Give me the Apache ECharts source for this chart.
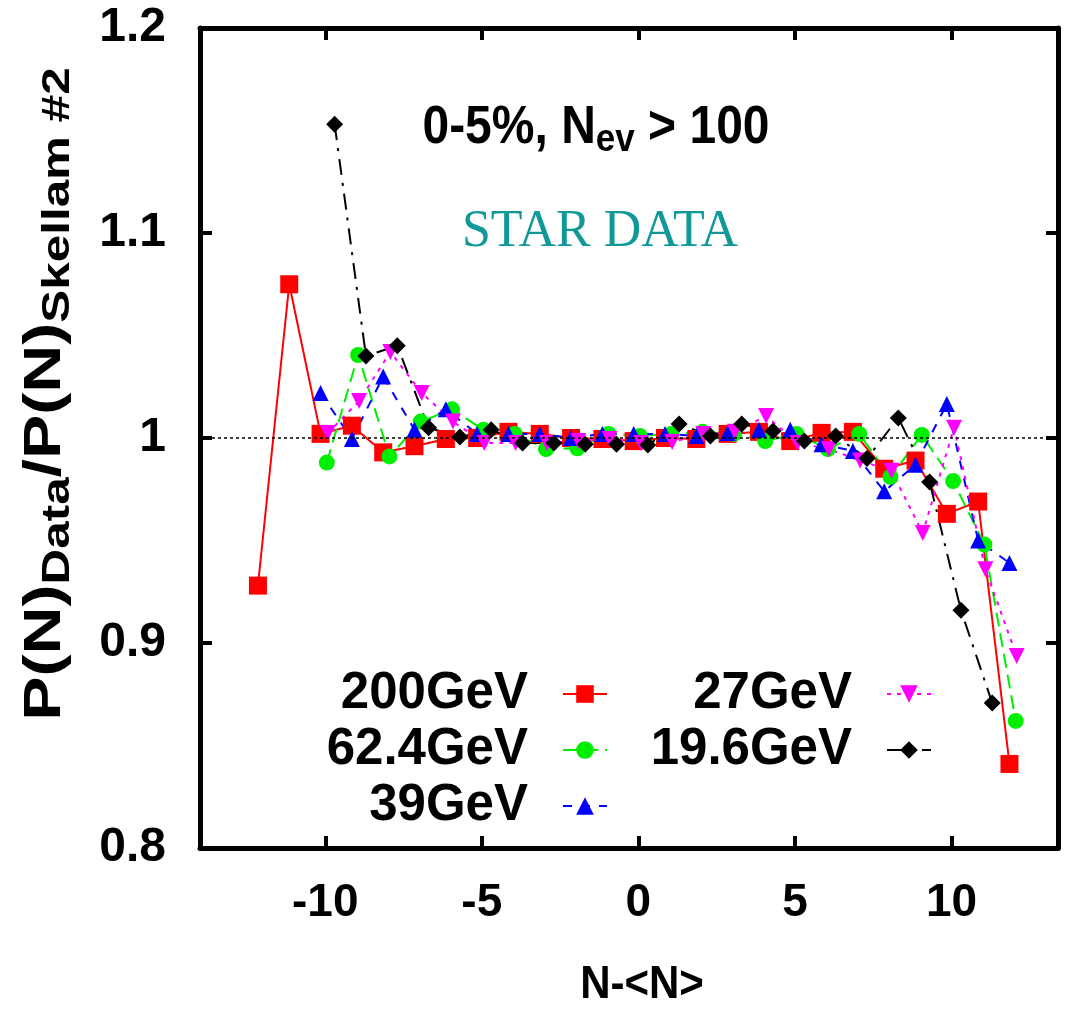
<!DOCTYPE html>
<html>
<head>
<meta charset="utf-8">
<script src="https://cdn.jsdelivr.net/npm/echarts@6/dist/echarts.min.js"></script>
<style>
  html, body { margin: 0; padding: 0; background: #fff; }
  #chart { width: 1086px; height: 1010px; }
</style>
</head>
<body>
<div id="chart"></div>
<script>
// N-<N> positions and P(N)Data/P(N)Skellam ratios
const x200 = [-12.15, -11.15, -10.15, -9.15, -8.15, -7.15, -6.15, -5.15, -4.15, -3.15, -2.15, -1.15, -0.15,
  0.85, 1.85, 2.85, 3.85, 4.85, 5.85, 6.85, 7.85, 8.85, 9.85, 10.85, 11.85];
const y200 = [0.928, 1.075, 1.002, 1.006, 0.993, 0.996, 0.9995, 1.0, 1.003, 1.002, 1.0, 0.9995, 0.9985,
  1.0, 0.9995, 1.002, 1.003, 0.9985, 1.0025, 1.003, 0.985, 0.989, 0.963, 0.969, 0.841];

const x624 = [-9.95, -8.95, -7.95, -6.95, -5.95, -4.95, -3.95, -2.95, -1.95, -0.95, 0.05,
  1.05, 2.05, 3.05, 4.05, 5.05, 6.05, 7.05, 8.05, 9.05, 10.05, 11.05, 12.05];
const y624 = [0.988, 1.0405, 0.991, 1.008, 1.014, 1.004, 1.002, 0.9946, 0.995, 1.002, 1.001,
  1.002, 1.003, 1.002, 0.9985, 1.002, 0.9946, 1.002, 0.981, 1.0015, 0.979, 0.948, 0.862];

const x39 = [-10.15, -9.15, -8.15, -7.15, -6.15, -5.15, -4.15, -3.15, -2.15, -1.15, -0.15,
  0.85, 1.85, 2.85, 3.85, 4.85, 5.85, 6.85, 7.85, 8.85, 9.85, 10.85, 11.85];
const y39 = [1.022, 0.9995, 1.030, 1.004, 1.014, 1.002, 1.002, 1.002, 1.0, 1.002, 1.002,
  1.002, 1.001, 1.0025, 1.004, 1.004, 0.997, 0.9937, 0.974, 0.987, 1.0166, 0.950, 0.939];

const x27 = [-9.92, -8.92, -7.92, -6.92, -5.92, -4.92, -3.92, -2.92, -1.92, -0.92, 0.08,
  1.08, 2.08, 3.08, 4.08, 5.08, 6.08, 7.08, 8.08, 9.08, 10.08, 11.08, 12.08];
const y27 = [1.0024, 1.018, 1.042, 1.022, 1.008, 0.9976, 0.9976, 0.9976, 0.9985, 0.9995, 0.9976,
  0.998, 1.002, 1.003, 1.0107, 0.9976, 0.9946, 0.989, 0.984, 0.9537, 1.005, 0.936, 0.8937];

const x196 = [-9.7, -8.7, -7.7, -6.7, -5.7, -4.7, -3.7, -2.7, -1.7, -0.7, 0.3,
  1.3, 2.3, 3.3, 4.3, 5.3, 6.3, 7.3, 8.3, 9.3, 10.3, 11.3];
const y196 = [1.153, 1.040, 1.045, 1.005, 1.0005, 1.004, 0.9976, 0.9976, 0.997, 0.997, 0.9966,
  1.0068, 1.001, 1.0068, 1.0034, 0.9985, 1.001, 0.990, 1.0098, 0.9785, 0.916, 0.8707];

const xTicks = [-10, -5, 0, 5, 10];
const legendLeft = ['200GeV', '62.4GeV', '39GeV'];
const legendRight = ['27GeV', '19.6GeV'];

const FONT = '"Liberation Sans", Arial, sans-serif';

function pairs(xs, ys) {
  return xs.map((x, i) => [x, ys[i]]);
}

function makeSeries(name, xs, ys, color, symbol, size, dash, extra) {
  return Object.assign({
    name: name,
    type: 'line',
    data: pairs(xs, ys),
    symbol: symbol,
    symbolSize: size,
    showAllSymbol: true,
    color: color,
    itemStyle: { color: color },
    lineStyle: { color: color, width: 2, type: dash },
    emphasis: { disabled: true },
    animation: false
  }, extra || {});
}

const chart = echarts.init(document.getElementById('chart'));

const frameLine = { show: true, onZero: false, lineStyle: { color: '#000', width: 5 } };
const tickStyle = { show: true, inside: true, length: 12, lineStyle: { color: '#000', width: 4 } };
const legendText = { color: '#000', fontFamily: FONT, fontWeight: 'bold', fontSize: 51, lineHeight: 56, padding: [0, 30, 0, 0] };

chart.setOption({
  backgroundColor: '#fff',
  animation: false,
  grid: { left: 200, right: 28, top: 28, bottom: 162 },
  xAxis: [{
    type: 'value', min: -14, max: 13.4, position: 'bottom',
    axisLine: frameLine,
    axisTick: Object.assign({ customValues: xTicks }, tickStyle),
    axisLabel: { customValues: xTicks, color: '#000', fontFamily: FONT, fontWeight: 'bold', fontSize: 46, margin: 32 },
    splitLine: { show: false }
  }, {
    type: 'value', min: -14, max: 13.4, position: 'top',
    axisLine: frameLine,
    axisTick: Object.assign({ customValues: xTicks }, tickStyle),
    axisLabel: { show: false },
    splitLine: { show: false }
  }],
  yAxis: [{
    type: 'value', min: 0.8, max: 1.2, interval: 0.1, position: 'left',
    axisLine: frameLine,
    axisTick: tickStyle,
    axisLabel: { color: '#000', fontFamily: FONT, fontWeight: 'bold', fontSize: 48, margin: 34 },
    splitLine: { show: false }
  }, {
    type: 'value', min: 0.8, max: 1.2, interval: 0.1, position: 'right',
    axisLine: frameLine,
    axisTick: tickStyle,
    axisLabel: { show: false },
    splitLine: { show: false }
  }],
  legend: [{
    data: legendLeft, orient: 'vertical', align: 'right', right: 478, top: 666,
    padding: 0, itemGap: 0, itemWidth: 44, itemHeight: 22,
    textStyle: legendText, selectedMode: false
  }, {
    data: legendRight, orient: 'vertical', align: 'right', right: 154, top: 666,
    padding: 0, itemGap: 0, itemWidth: 44, itemHeight: 22,
    textStyle: legendText, selectedMode: false
  }],
  graphic: [{
    type: 'text', x: 596, y: 128, scaleY: 1.1,
    style: {
      text: '{a|0-5%, N}{s|ev}{a| > 100}',
      align: 'center', verticalAlign: 'middle',
      rich: {
        a: { fontFamily: FONT, fontWeight: 'bold', fontSize: 48, fill: '#000', lineHeight: 56 },
        s: { fontFamily: FONT, fontWeight: 'bold', fontSize: 35, fill: '#000', lineHeight: 56, padding: [22, 0, 0, 0] }
      }
    }
  }, {
    type: 'text', x: 600, y: 232,
    style: {
      text: 'STAR DATA', align: 'center', verticalAlign: 'middle',
      font: '52px "Liberation Serif", "Times New Roman", serif', fill: '#119999'
    }
  }, {
    type: 'text', x: 642, y: 985, scaleY: 1.1,
    style: {
      text: 'N-<N>', align: 'center', verticalAlign: 'middle',
      font: 'bold 42px "Liberation Sans", Arial, sans-serif', fill: '#000'
    }
  }, {
    type: 'text', x: 46, y: 394, rotation: Math.PI / 2, scaleX: 1.3,
    style: {
      text: '{a|P(N)}{s|Data}{a|/P(N)}{s|Skellam #2}',
      align: 'center', verticalAlign: 'middle',
      rich: {
        a: { fontFamily: FONT, fontWeight: 'bold', fontSize: 51, fill: '#000', lineHeight: 58 },
        s: { fontFamily: FONT, fontWeight: 'bold', fontSize: 38, fill: '#000', lineHeight: 58, padding: [26, 0, 0, 0] }
      }
    }
  }],
  series: [
    makeSeries('200GeV', x200, y200, '#ff0000', 'rect', 18, 'solid', {
      markLine: {
        silent: true, symbol: 'none', label: { show: false },
        lineStyle: { color: '#000', width: 1.5, type: [3, 3] },
        data: [{ yAxis: 1 }]
      }
    }),
    makeSeries('62.4GeV', x624, y624, '#00ee00', 'circle', 16, [14, 7]),
    makeSeries('39GeV', x39, y39, '#0000ff', 'triangle', 16, [9, 9]),
    makeSeries('27GeV', x27, y27, '#ff00ff', 'triangle', 16, [4, 6], { symbolRotate: 180 }),
    makeSeries('19.6GeV', x196, y196, '#000000', 'diamond', 17, [16, 8, 3, 8])
  ]
});
</script>
</body>
</html>
